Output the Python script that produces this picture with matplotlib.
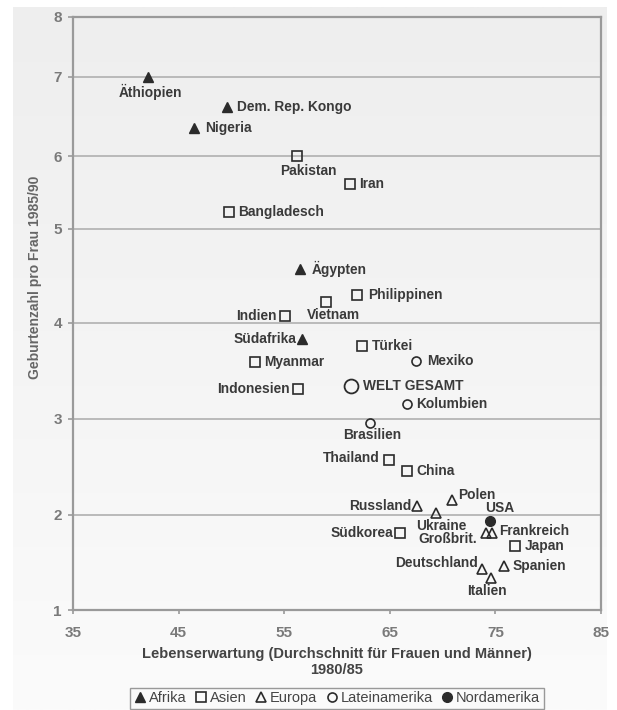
import numpy as np
import matplotlib.pyplot as plt
from matplotlib.colors import LinearSegmentedColormap
from matplotlib.lines import Line2D

# ---- data ----
afrika_names = ["Äthiopien", "Dem. Rep. Kongo", "Nigeria", "Ägypten", "Südafrika"]
afrika_x = [42.1, 49.6, 46.5, 56.5, 56.7]
afrika_y = [7.0, 6.62, 6.35, 4.57, 3.83]

asien_names = ["Pakistan", "Iran", "Bangladesch", "Philippinen", "Vietnam", "Indien",
               "Türkei", "Myanmar", "Indonesien", "Thailand", "China", "Südkorea", "Japan"]
asien_x = [56.2, 61.2, 49.8, 61.9, 59.0, 55.1, 62.4, 52.2, 56.3, 64.9, 66.6, 66.0, 76.9]
asien_y = [6.0, 5.61, 5.23, 4.30, 4.22, 4.07, 3.76, 3.59, 3.31, 2.57, 2.46, 1.81, 1.67]

europa_names = ["Russland", "Polen", "Ukraine", "Großbrit.", "Frankreich",
                "Deutschland", "Spanien", "Italien"]
europa_x = [67.6, 70.9, 69.4, 74.1, 74.7, 73.7, 75.8, 74.6]
europa_y = [2.09, 2.16, 2.02, 1.81, 1.81, 1.43, 1.46, 1.34]

latam_names = ["Mexiko", "Kolumbien", "Brasilien"]
latam_x = [67.5, 66.6, 63.1]
latam_y = [3.60, 3.16, 2.96]

namerika_names = ["USA"]
namerika_x = [74.5]
namerika_y = [1.94]

welt_names = ["WELT GESAMT"]
welt_x = [61.3]
welt_y = [3.34]

legend_labels = ["Afrika", "Asien", "Europa", "Lateinamerika", "Nordamerika"]
x_ticks = [35, 45, 55, 65, 75, 85]
y_ticks = [1, 2, 3, 4, 5, 6, 7, 8]

# label placement: (dx pt, dy pt, ha)
label_pos = {
    "Äthiopien": (1.5, -11, "center"), "Dem. Rep. Kongo": (7, 0, "left"),
    "Nigeria": (8, 0, "left"), "Ägypten": (8.5, 0, "left"), "Südafrika": (-4, 0, "right"),
    "Pakistan": (8, -11, "center"), "Iran": (6.5, 0, "left"), "Bangladesch": (6.5, 0, "left"),
    "Philippinen": (8, 0, "left"), "Vietnam": (5, -9, "center"), "Indien": (-6.5, 0, "right"),
    "Türkei": (7, 0, "left"), "Myanmar": (7, 0, "left"), "Indonesien": (-6, 0, "right"),
    "Thailand": (-6.5, 1.5, "right"), "China": (7, 0, "left"), "Südkorea": (-5, 0, "right"),
    "Japan": (7, 0, "left"), "Russland": (-4.5, 0, "right"), "Polen": (4.5, 3.5, "left"),
    "Ukraine": (3.5, -9, "center"), "Großbrit.": (-6.5, -4.5, "right"),
    "Frankreich": (5, 1.5, "left"), "Deutschland": (-3, 4.5, "right"),
    "Spanien": (6.5, 0, "left"), "Italien": (-3, -9.5, "center"),
    "Mexiko": (8, 0, "left"), "Kolumbien": (7, 0, "left"), "Brasilien": (2, -9, "center"),
    "USA": (7, 9.5, "center"), "WELT GESAMT": (8.5, 0, "left"),
}

# the scanned figure has unevenly spaced y gridlines -> piecewise linear scale
Y_KNOTS = np.array([1, 2, 3, 4, 5, 6, 7, 8], float)
H_KNOTS = np.array([0, 95, 191, 287, 381, 454, 533, 593], float)


def y_forward(v):
    v = np.asarray(v, float)
    out = np.interp(v, Y_KNOTS, H_KNOTS)
    out = np.where(v < 1, (v - 1) * 95, out)
    out = np.where(v > 8, 593 + (v - 8) * 60, out)
    return out


def y_inverse(h):
    h = np.asarray(h, float)
    out = np.interp(h, H_KNOTS, Y_KNOTS)
    out = np.where(h < 0, 1 + h / 95, out)
    out = np.where(h > 593, 8 + (h - 593) / 60, out)
    return out


plt.rcParams["font.family"] = ["Liberation Sans", "DejaVu Sans"]

W, H = 617, 710
fig = plt.figure(figsize=(W / 100, H / 100), dpi=100)

# light grey panel with vertical gradient
bg = fig.add_axes([13 / W, 0, 594 / W, 703 / H], zorder=-5)
cmap = LinearSegmentedColormap.from_list("panel", ["#eeeeee", "#fbfbfb"])
bg.imshow(np.linspace(0, 1, 256).reshape(-1, 1), aspect="auto", cmap=cmap,
          extent=[0, 1, 0, 1])
bg.axis("off")

ax = fig.add_axes([73 / W, 1 - 610 / H, 528 / W, 593 / H])
ax.set_facecolor("none")
ax.set_yscale("function", functions=(y_forward, y_inverse))
ax.set_xlim(35, 85)
ax.set_ylim(1, 8)
ax.set_xticks(x_ticks)
ax.set_yticks(y_ticks)
ax.yaxis.grid(True, color="#b0b0b0", lw=1.2)
ax.set_axisbelow(True)
for s in ax.spines.values():
    s.set_color("#9a9a9a")
    s.set_linewidth(1.6)
ax.tick_params(axis="x", length=3, width=1.2, color="#9a9a9a", pad=8.5,
               labelsize=11, labelcolor="#7a7a7a")
ax.tick_params(axis="y", length=3.5, width=1.2, color="#9a9a9a", pad=4.5,
               labelsize=11, labelcolor="#7a7a7a")
for lab in ax.get_xticklabels() + ax.get_yticklabels():
    lab.set_fontweight("bold")

dark = "#2b2b2b"
groups = [
    (afrika_names, afrika_x, afrika_y, dict(marker="^", ms=7, mfc=dark, mec=dark)),
    (asien_names, asien_x, asien_y, dict(marker="s", ms=6.5, mfc="none", mec=dark, mew=1.2)),
    (europa_names, europa_x, europa_y, dict(marker="^", ms=7.5, mfc="none", mec=dark, mew=1.2)),
    (latam_names, latam_x, latam_y, dict(marker="o", ms=6.5, mfc="none", mec=dark, mew=1.2)),
    (namerika_names, namerika_x, namerika_y, dict(marker="o", ms=7, mfc=dark, mec=dark)),
    (welt_names, welt_x, welt_y, dict(marker="o", ms=10, mfc="none", mec=dark, mew=1.3)),
]

for names, xs, ys, style in groups:
    ax.plot(xs, ys, ls="none", **style)
    for n, x, y in zip(names, xs, ys):
        dx, dy, ha = label_pos[n]
        ax.annotate(n, (x, y), xytext=(dx, dy), textcoords="offset points",
                    ha=ha, va="center", fontsize=9.9, fontweight="bold",
                    color="#3a3a3a")

fig.text(35 / W, 1 - 277 / H, "Geburtenzahl pro Frau 1985/90", rotation=90,
         ha="center", va="center", fontsize=10, fontweight="bold", color="#666666")
fig.text(337 / W, 1 - 662 / H,
         "Lebenserwartung (Durchschnitt für Frauen und Männer)\n1980/85",
         ha="center", va="center", fontsize=10.5, fontweight="bold",
         color="#444444", linespacing=1.25)

handles = [g[3] for g in groups[:5]]
handles = [Line2D([], [], ls="none", **st) for st in handles]
leg = fig.legend(handles, legend_labels, loc="lower center", ncol=5,
                 bbox_to_anchor=(337 / W, 1 / H), fontsize=10.5, frameon=True,
                 fancybox=False, edgecolor="#999999", facecolor="#fafafa",
                 framealpha=1, handlelength=0.8, handletextpad=0.2,
                 columnspacing=0.6, borderpad=0.25, borderaxespad=0)
for t in leg.get_texts():
    t.set_color("#444444")

fig.savefig("out.png", dpi=100)
